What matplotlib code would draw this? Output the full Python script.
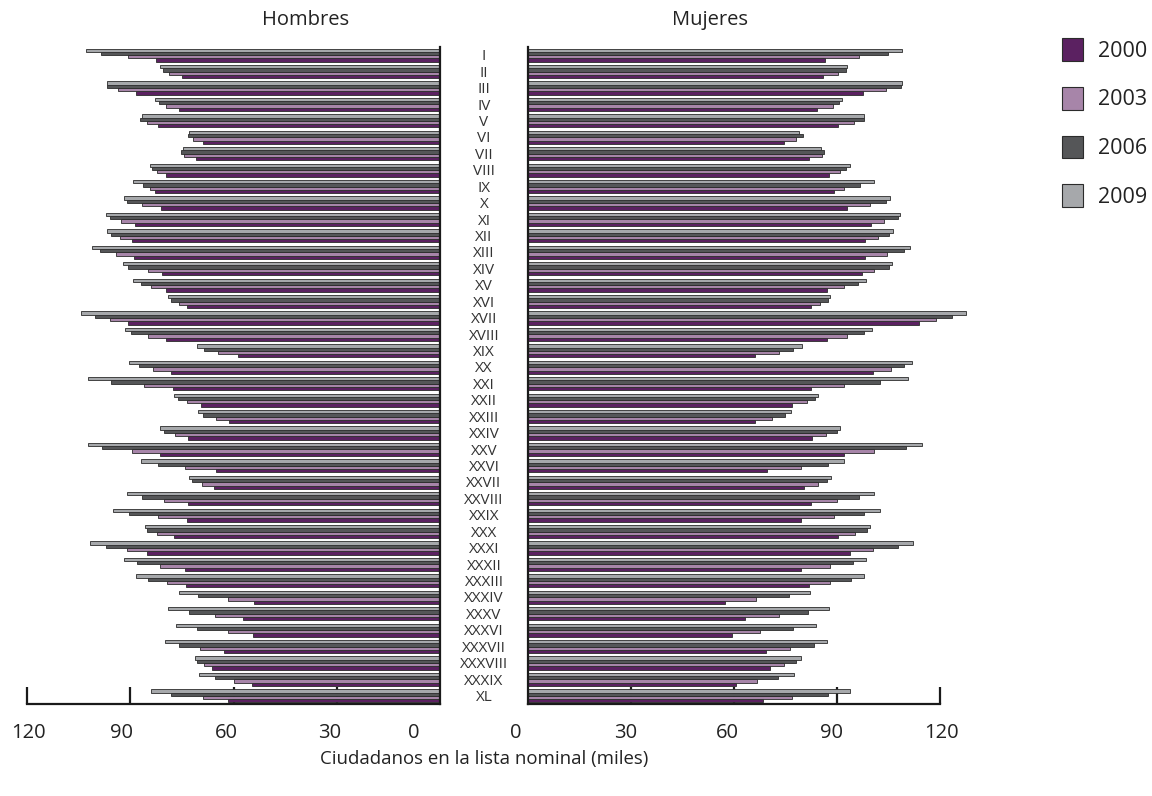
import matplotlib
matplotlib.use("Agg")
import matplotlib.pyplot as plt
from matplotlib.transforms import blended_transform_factory
from matplotlib.patches import Patch
import numpy as np

plt.rcParams['font.family'] = ['Open Sans', 'DejaVu Sans']

categories = ["I", "II", "III", "IV", "V", "VI", "VII", "VIII", "IX", "X",
              "XI", "XII", "XIII", "XIV", "XV", "XVI", "XVII", "XVIII", "XIX", "XX",
              "XXI", "XXII", "XXIII", "XXIV", "XXV", "XXVI", "XXVII", "XXVIII", "XXIX", "XXX",
              "XXXI", "XXXII", "XXXIII", "XXXIV", "XXXV", "XXXVI", "XXXVII", "XXXVIII", "XXXIX", "XL"]
years = ["2000", "2003", "2006", "2009"]

# Hombres (miles)
men_2009 = [103.0, 81.4, 96.7, 82.8, 86.6, 72.9, 74.6, 84.4, 89.1, 91.8,
            97.1, 96.9, 101.1, 92.2, 89.1, 79.0, 104.3, 91.6, 70.6, 90.3,
            102.3, 77.2, 70.4, 81.3, 102.3, 86.9, 73.0, 90.9, 95.1, 85.6,
            101.6, 91.8, 88.3, 75.9, 79.0, 76.6, 79.8, 71.3, 70.0, 84.1]
men_2006 = [98.5, 80.6, 96.9, 81.7, 87.1, 73.3, 75.2, 83.7, 86.2, 90.8,
            96.0, 95.5, 98.8, 90.6, 87.0, 78.1, 100.1, 89.8, 68.6, 87.5,
            95.6, 76.2, 69.0, 80.3, 98.2, 82.0, 72.0, 86.6, 90.3, 85.2,
            97.1, 88.1, 84.8, 70.3, 72.8, 70.6, 75.8, 70.7, 65.4, 78.2]
men_2003 = [90.6, 78.7, 93.5, 79.7, 85.0, 71.7, 74.3, 82.1, 84.2, 86.5,
            92.6, 92.9, 94.0, 84.8, 84.0, 75.9, 95.9, 84.8, 64.4, 83.3,
            85.9, 73.6, 65.2, 77.0, 89.6, 74.1, 69.1, 80.2, 82.0, 82.1,
            91.0, 81.5, 79.4, 61.6, 65.3, 61.6, 69.7, 68.6, 59.8, 68.9]
men_2000 = [82.6, 75.1, 88.4, 75.9, 81.9, 69.0, 71.0, 79.6, 82.8, 81.1,
            88.7, 89.5, 88.9, 80.7, 79.5, 73.4, 90.6, 79.5, 58.6, 78.3,
            77.6, 69.5, 61.3, 73.1, 81.4, 65.2, 65.6, 73.3, 73.5, 77.4,
            85.0, 74.2, 73.8, 53.9, 57.1, 54.3, 62.7, 66.3, 54.7, 61.7]

# Mujeres (miles)
women_2009 = [109.0, 93.0, 109.0, 91.6, 97.9, 79.0, 85.4, 93.8, 100.7, 105.4,
              108.3, 106.4, 111.2, 105.9, 98.4, 88.0, 127.5, 100.1, 79.7, 111.9,
              110.8, 84.5, 76.6, 90.8, 114.7, 92.1, 88.3, 100.9, 102.6, 99.6,
              112.2, 98.4, 98.0, 82.2, 87.7, 83.8, 87.2, 79.6, 77.6, 93.9]
women_2006 = [104.9, 92.5, 108.6, 90.5, 98.0, 80.0, 86.3, 92.6, 96.7, 104.2,
              107.8, 105.1, 109.4, 105.2, 96.0, 87.5, 123.6, 98.0, 77.3, 109.4,
              102.6, 83.7, 74.9, 89.9, 110.1, 87.4, 87.2, 96.5, 97.9, 98.6,
              107.8, 94.6, 94.2, 75.9, 81.5, 77.3, 83.4, 78.0, 72.9, 87.3]
women_2003 = [96.5, 90.4, 104.2, 88.7, 94.9, 78.2, 85.7, 90.8, 92.0, 99.7,
              103.8, 102.0, 104.5, 100.7, 92.0, 85.0, 118.9, 93.0, 73.0, 105.8,
              92.1, 81.3, 71.1, 86.7, 100.8, 79.6, 84.4, 90.1, 89.2, 95.3,
              100.6, 87.9, 88.1, 66.3, 73.2, 67.7, 76.4, 74.7, 66.6, 76.8]
women_2000 = [86.5, 85.8, 97.5, 84.1, 90.3, 74.5, 81.7, 87.6, 89.0, 92.9,
              99.9, 98.1, 98.3, 97.2, 87.0, 82.3, 113.8, 87.0, 66.2, 100.6,
              82.3, 76.8, 66.2, 82.7, 92.0, 69.5, 80.3, 82.3, 79.6, 90.4,
              93.7, 79.5, 81.9, 57.4, 63.2, 59.3, 69.2, 70.4, 60.7, 68.4]

left_tick_labels = ["120", "90", "60", "30", "0"]
right_tick_labels = ["0", "30", "60", "90", "120"]

colors = {"2000": "#5b2161", "2003": "#a785a9", "2006": "#555658", "2009": "#a6a8ab"}
edge = "#2b2b2b"

W, H = 1152, 796
fig = plt.figure(figsize=(W / 100, H / 100), dpi=100)

ax_top, ax_bot = 47, 704
axL = fig.add_axes([27 / W, 1 - ax_bot / H, (440 - 27) / W, (ax_bot - ax_top) / H])
axR = fig.add_axes([528 / W, 1 - ax_bot / H, (940 - 528) / W, (ax_bot - ax_top) / H])

y = np.arange(len(categories))
bh = 0.2
men = {"2000": men_2000, "2003": men_2003, "2006": men_2006, "2009": men_2009}
women = {"2000": women_2000, "2003": women_2003, "2006": women_2006, "2009": women_2009}
offsets = {"2009": -0.3, "2006": -0.1, "2003": 0.1, "2000": 0.3}

for yr in years:
    for ax, data in ((axL, men), (axR, women)):
        bars = ax.barh(y + offsets[yr], data[yr], height=bh, color=colors[yr],
                       edgecolor=edge, linewidth=0.6, zorder=1)
        for b in bars:
            b.set_clip_on(False)

for ax in (axL, axR):
    ax.set_ylim(39.5, -0.5)
    ax.set_axisbelow(True)
    ax.set_yticks([])
    ax.spines['top'].set_visible(False)
    for s in ax.spines.values():
        s.set_linewidth(1.6)
        s.set_color("#1a1a1a")
    ax.tick_params(axis='x', direction='in', length=12.5, width=1.6,
                   color="#1a1a1a", labelbottom=False)
    ax.patch.set_alpha(0)

axL.set_xlim(120, 0)
axL.spines['left'].set_visible(False)
axL.set_xticks([120, 90, 60, 30])
axR.set_xlim(0, 120)
axR.spines['right'].set_visible(False)
axR.set_xticks([30, 60, 90, 120])

# tick labels (positioned as in the reference)
lab_y = 1 - 733 / H
left_pos = [119.7, 92.4, 62.2, 32.0, 7.6]
right_pos = [-3.5, 28.3, 58.0, 88.3, 120.3]
trL = blended_transform_factory(axL.transData, fig.transFigure)
trR = blended_transform_factory(axR.transData, fig.transFigure)
for t, p in zip(left_tick_labels, left_pos):
    fig.text(p, lab_y, t, transform=trL, ha='center', va='center', fontsize=14.5, color="#222222")
for t, p in zip(right_tick_labels, right_pos):
    fig.text(p, lab_y, t, transform=trR, ha='center', va='center', fontsize=14.5, color="#222222")

# category labels
trC = blended_transform_factory(fig.transFigure, axL.transData)
for i, c in enumerate(categories):
    fig.text(484 / W, i + 0.1, c, transform=trC, ha='center', va='center',
             fontsize=11, color="#333333")

fig.text(306 / W, 1 - 20 / H, "Hombres", ha='center', va='center', fontsize=14.5, color="#222222")
fig.text(710 / W, 1 - 20 / H, "Mujeres", ha='center', va='center', fontsize=14.5, color="#222222")
fig.text(484 / W, 1 - 759 / H, "Ciudadanos en la lista nominal (miles)", ha='center',
         va='center', fontsize=13.4, color="#222222")

handles = [Patch(facecolor=colors[yr], edgecolor=edge, linewidth=0.8) for yr in years]
fig.legend(handles, years, loc='upper left', bbox_to_anchor=(1062 / W, 1 - 38 / H),
           frameon=False, fontsize=15.5, handlelength=0.98, handleheight=1.25,
           handletextpad=0.7, labelspacing=1.17, borderaxespad=0, borderpad=0,
           labelcolor="#222222")

fig.savefig("out.png", dpi=100)
